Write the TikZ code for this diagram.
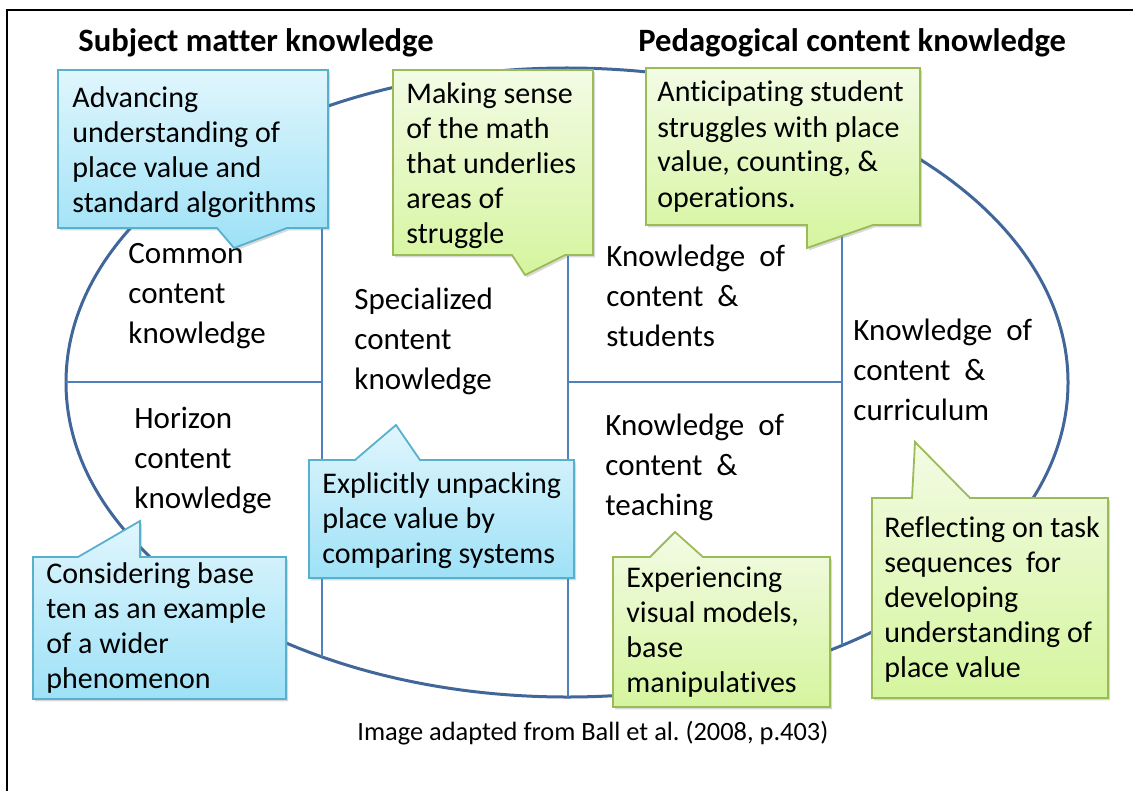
\documentclass[tikz,border=0pt]{standalone}
\usepackage{fontspec}
\setmainfont{Carlito}[RawFeature={-liga;-clig;-calt}]
\usetikzlibrary{shadows}
\frenchspacing

\definecolor{ringblue}{RGB}{65,103,154}
\definecolor{lineblue}{RGB}{79,129,189}
\definecolor{bluerim}{RGB}{88,176,204}
\definecolor{bluetop}{RGB}{224,246,253}
\definecolor{bluebot}{RGB}{158,225,247}
\definecolor{greenrim}{RGB}{155,187,89}
\definecolor{greentop}{RGB}{243,251,229}
\definecolor{greenbot}{RGB}{213,245,158}

\begin{document}
\begin{tikzpicture}[x=0.5pt,y=-0.5pt,
  note/.style={line width=0.9pt,drop shadow={shadow xshift=1pt,shadow yshift=-1.2pt,opacity=0.3}},
  bluenote/.style={note,draw=bluerim,top color=bluetop,bottom color=bluebot},
  greennote/.style={note,draw=greenrim,top color=greentop,bottom color=greenbot},
  notetext/.style={anchor=base west,inner sep=0pt,align=left,font=\fontsize{15}{17.5}\selectfont},
  celltext/.style={anchor=base west,inner sep=0pt,align=left,font=\fontsize{15.5}{20}\selectfont},
  heading/.style={anchor=base west,inner sep=0pt,font=\bfseries\fontsize{16.3}{18}\selectfont}]

\useasboundingbox (0,0) rectangle (1133,791);

% frame
\draw[line width=1pt] (7,791) -- (7,10) -- (1133,10);

% outline
\draw[ringblue,line width=1.5pt] (567,382.5) ellipse [x radius=501, y radius=314.5];
\draw[lineblue,line width=0.75pt] (66,382) -- (322,382) (568,382) -- (842,382)
      (322,108) -- (322,657) (568,68) -- (568,697) (842,120) -- (842,645);

% cells (anchored at the last line)
\node[celltext] (common)   at (128,343) {Common\\content\\knowledge};
\node[celltext] (horizon)  at (134,508) {Horizon\\content\\knowledge};
\node[celltext] (special)  at (354,389) {Specialized\\content\\knowledge};
\node[celltext] (students) at (606,346) {Knowledge\ \ of\\content\ \ \&\\students};
\node[celltext] (teaching) at (605,515) {Knowledge\ \ of\\content\ \ \&\\teaching};
\node[celltext] (curric)   at (853,420) {Knowledge\ \ of\\content\ \ \&\\curriculum};

\node[heading] (subject) at (78,52)  {Subject matter knowledge};
\node[heading] (pedagog) at (638,52) {Pedagogical content knowledge};

% callouts
\path[bluenote]  (58,70) -- (328,70) -- (328,228) -- (287,228) -- (234,248) -- (217,228) -- (58,228) -- cycle;
\path[greennote] (393,70) -- (593,70) -- (593,255) -- (565,255) -- (525,275) -- (512,255) -- (393,255) -- cycle;
\path[greennote] (646,68) -- (920,68) -- (920,225) -- (873,225) -- (807,248) -- (807,225) -- (646,225) -- cycle;
\path[bluenote]  (33,557) -- (78,557) -- (140,521) -- (140,557) -- (286,557) -- (286,699) -- (33,699) -- cycle;
\path[bluenote]  (309,460) -- (355,460) -- (396,425) -- (420,460) -- (574,460) -- (574,578) -- (309,578) -- cycle;
\path[greennote] (613,557) -- (650,557) -- (675,532) -- (703,557) -- (830,557) -- (830,707) -- (613,707) -- cycle;
\path[greennote] (872,498) -- (912,498) -- (915,442) -- (970,498) -- (1108,498) -- (1108,698) -- (872,698) -- cycle;

\node[notetext] (advancing)    at (72,213)  {Advancing\\understanding of\\place value and\\standard algorithms};
\node[notetext] (makingsense)  at (406,243) {Making sense\\of the math\\that underlies\\areas of\\struggle};
\node[notetext] (anticipating) at (657,207) {Anticipating student\\struggles with place\\value, counting, \&\\operations.};
\node[notetext] (considering)  at (46,688)  {Considering base\\ten as an example\\of a wider\\phenomenon};
\node[notetext] (unpacking)    at (322,563) {Explicitly unpacking\\place value by\\comparing systems};
\node[notetext] (experiencing) at (626,692) {Experiencing\\visual models,\\base\\manipulatives};
\node[notetext] (reflecting)   at (884,677) {Reflecting on task\\sequences\ \ for\\developing\\understanding of\\place value};

\node[anchor=base west,inner sep=0pt,font=\fontsize{13.2}{15}\selectfont] (source) at (357,740)
      {Image adapted from Ball et al. (2008, p.403)};
\end{tikzpicture}
\end{document}
